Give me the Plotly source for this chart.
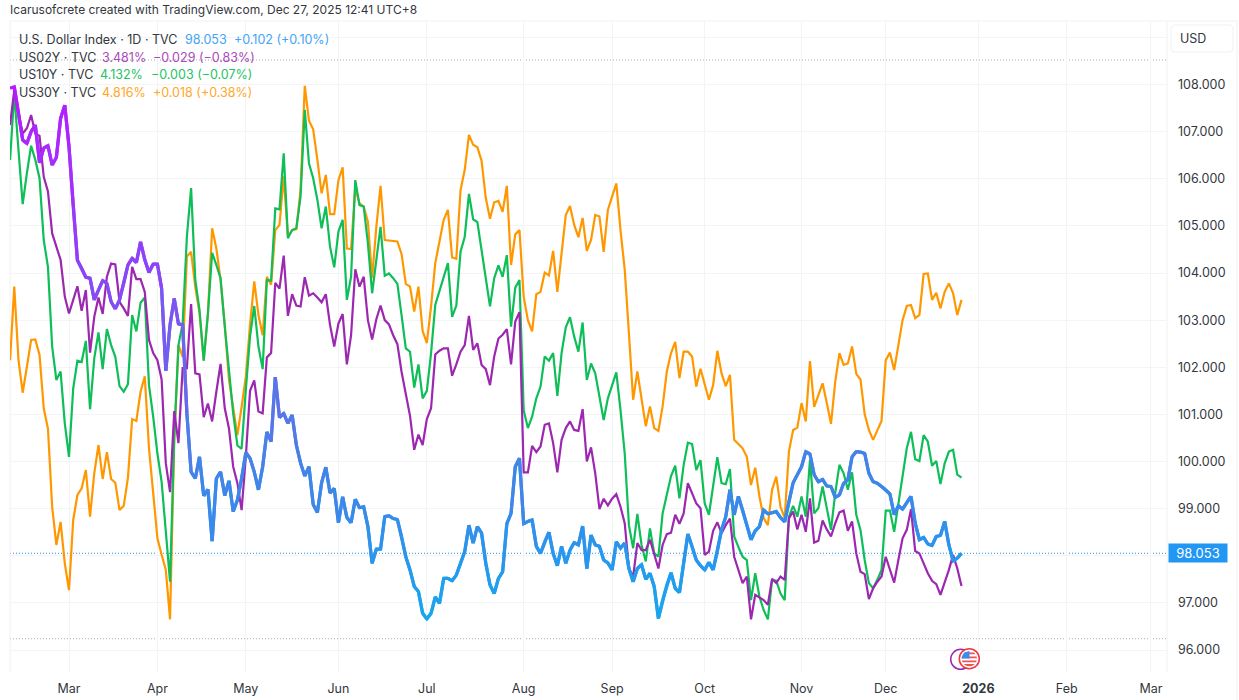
import numpy as np
import plotly.graph_objects as go

# Trading-day bar numbers: 0 is 3 Mar 2025, 212 is 26 Dec 2025
first_bar = -14
month_bars = [0, 21, 42, 64, 85, 108, 129, 151, 174, 194, 216, 237, 257]
month_labels = ["Mar", "Apr", "May", "Jun", "Jul", "Aug", "Sep", "Oct", "Nov", "Dec", "<b>2026</b>", "Feb", "Mar"]

price_ticks = [96, 97, 98, 99, 100, 101, 102, 103, 104, 105, 106, 107, 108, 109]
price_labels = ["96.000", "97.000", "", "99.000", "100.000", "101.000", "102.000", "103.000",
                "104.000", "105.000", "106.000", "107.000", "108.000", ""]

last_price = 98.053
range_high = 108.52
range_low = 96.24

us30y = [102.15,103.71,102.15,101.46,102.01,102.58,102.59,102.26,101.13,100.70,99.04,98.23,98.72,97.84,
    97.27,98.76,99.29,99.43,99.82,98.83,99.75,100.35,99.63,100.20,
    99.63,99.55,98.97,99.06,99.66,100.90,100.86,101.48,101.81,100.28,
    99.33,98.37,98.02,97.70,96.65,100.46,102.47,102.22,104.35,104.45,
    103.70,103.15,102.14,103.14,104.95,104.52,103.85,102.90,101.73,101.09,
    100.56,101.16,101.80,102.90,103.82,103.11,102.68,103.92,103.75,104.91,
    105.02,106.05,104.77,104.91,104.93,105.76,107.97,107.23,107.05,106.40,
    105.69,106.08,105.25,105.25,105.97,106.24,104.52,104.51,105.80,105.48,
    105.41,105.09,103.89,104.98,105.85,104.70,104.69,104.68,104.67,104.40,
    103.77,103.71,103.18,103.71,102.77,102.51,103.29,104.21,104.67,105.13,
    105.34,104.33,104.30,105.76,106.19,106.93,106.72,106.67,106.38,105.59,
    105.15,105.50,105.53,105.30,105.85,104.17,104.82,104.91,103.50,103.00,
    102.76,103.55,103.60,104.01,103.95,104.47,103.60,104.42,105.23,105.42,
    105.02,104.76,105.17,104.47,104.70,105.23,105.20,104.45,105.34,105.62,
    105.90,104.91,104.07,102.72,101.31,101.91,101.34,100.75,101.17,100.71,
    100.65,101.17,101.91,102.30,102.54,101.77,102.33,102.33,102.23,101.59,
    101.97,101.62,101.31,101.62,102.35,101.87,101.60,101.84,100.46,100.37,
    100.28,100.10,99.50,99.87,99.26,98.80,98.65,99.40,99.68,99.04,
    98.80,100.21,100.67,100.72,101.24,100.85,102.13,101.16,101.39,101.66,
    101.24,100.80,101.69,102.30,102.05,102.08,102.44,101.86,101.74,101.00,
    100.67,100.46,100.66,100.86,102.15,102.31,101.94,102.47,103.00,103.30,
    103.32,103.04,103.11,103.98,103.99,103.43,103.58,103.25,103.60,103.78,103.57,103.11,103.43]

us10y = [106.40,107.81,106.61,105.46,106.12,106.70,106.40,106.01,104.70,104.13,102.44,101.73,101.91,100.81,
    100.10,101.55,102.14,102.11,102.56,101.11,102.19,102.74,101.96,102.81,
    102.47,102.22,101.60,101.48,101.64,103.11,102.76,103.37,103.48,101.62,
    100.95,100.17,99.57,98.48,97.45,100.53,102.47,102.93,104.77,105.80,
    103.85,103.22,102.14,103.14,104.43,104.17,103.89,102.86,101.87,101.02,
    100.34,100.27,101.52,102.65,103.30,102.44,101.96,103.85,103.84,105.37,
    105.35,106.54,104.74,104.91,104.95,105.62,107.46,106.33,106.01,105.55,
    104.95,105.41,104.56,104.12,104.88,105.13,103.43,103.92,105.97,105.44,
    105.41,104.63,103.57,104.28,104.98,103.94,103.99,103.89,103.77,103.10,
    102.40,102.33,101.57,102.06,101.34,101.50,102.30,103.32,103.60,103.91,
    104.21,103.07,103.31,104.45,104.77,105.68,105.14,105.08,104.49,103.85,
    103.29,103.89,104.16,103.92,104.38,102.86,103.69,103.85,101.09,100.71,
    100.95,101.34,101.59,102.23,102.14,102.30,101.39,102.30,102.85,103.06,
    102.65,102.33,102.95,101.73,102.08,101.87,101.38,100.88,101.34,101.62,
    101.89,101.09,100.17,98.65,98.16,98.89,98.23,97.88,98.58,98.05,
    97.98,98.90,99.33,99.69,99.91,99.22,99.93,100.40,100.37,99.82,
    100.03,99.11,98.87,99.47,100.09,99.54,99.52,99.84,98.41,98.19,
    97.98,97.91,97.06,97.63,97.13,96.85,96.65,97.49,97.47,97.20,
    97.06,98.83,99.06,98.83,99.26,98.83,100.03,98.90,99.01,99.47,
    99.01,98.55,99.33,99.93,99.75,99.40,99.77,98.87,98.55,97.91,
    97.42,97.31,97.49,97.70,98.96,98.96,98.51,99.11,99.75,100.28,
    100.63,100.05,100.01,100.56,100.42,99.91,100.01,99.52,99.96,100.21,100.25,99.72,99.66]

us02y = [107.14,107.88,107.39,106.96,107.07,107.35,106.96,106.91,106.04,105.73,104.84,104.56,104.28,103.50,
    103.14,103.43,103.72,103.20,103.64,102.31,103.07,103.48,103.13,103.92,
    104.20,104.18,103.39,103.25,103.09,104.13,103.87,103.87,103.60,102.58,
    102.30,102.15,101.74,99.96,99.35,101.07,100.39,101.98,101.98,103.34,
    101.87,101.85,100.94,101.23,100.85,101.48,102.07,101.13,100.70,99.89,
    99.54,98.97,100.10,101.50,101.72,101.06,101.02,102.21,102.30,103.79,
    103.67,104.37,103.09,103.55,103.31,103.29,103.91,103.52,103.57,103.48,
    103.38,103.55,102.90,102.44,102.93,103.13,102.06,102.68,104.08,103.71,
    103.92,103.00,102.59,103.02,103.31,103.00,102.91,102.68,102.49,101.90,
    101.40,100.97,100.25,100.57,100.35,100.90,101.13,102.27,102.35,102.40,
    102.40,101.82,102.06,102.33,102.47,103.09,102.37,102.51,102.05,101.96,
    101.62,102.23,102.61,102.69,102.81,102.06,102.97,103.17,99.77,99.77,
    100.33,100.20,100.32,100.78,100.81,100.39,99.77,100.46,100.71,100.85,
    100.67,100.65,101.11,100.00,100.30,99.75,98.99,99.21,99.07,99.21,
    99.31,99.04,98.69,97.73,97.56,98.27,98.12,98.12,98.34,98.02,
    97.73,98.23,98.46,98.49,98.87,98.68,98.90,99.54,99.31,99.11,
    99.01,98.02,98.09,98.53,98.71,98.48,98.65,98.79,97.98,97.70,
    97.42,97.56,96.65,97.17,97.11,97.06,96.96,97.51,97.42,97.56,
    97.49,98.79,98.94,98.56,98.87,98.51,99.22,98.28,98.32,98.75,
    98.56,98.41,98.69,98.92,98.96,98.53,98.73,98.05,97.66,97.61,
    97.08,97.31,97.45,97.56,97.98,97.70,97.43,97.91,98.37,98.55,
    98.99,98.10,98.05,97.84,97.63,97.47,97.40,97.17,97.42,97.70,98.02,97.73,97.36]

dxy = [107.92,107.95,107.39,106.82,106.75,107.00,107.14,106.34,106.65,106.70,106.29,106.45,107.28,107.56,
    106.68,105.41,104.27,104.10,103.91,103.89,103.43,103.64,103.84,103.78,
    103.39,103.24,103.43,103.78,104.17,104.31,104.22,104.66,104.28,104.01,
    104.19,104.19,103.67,101.93,102.90,103.46,102.92,102.90,101.02,99.78,
    99.64,100.10,99.27,99.41,98.31,99.64,99.78,99.28,99.59,98.94,
    99.18,99.64,100.19,100.07,99.78,99.40,99.89,100.63,100.42,101.79,
    100.93,101.02,100.81,100.99,100.35,99.97,99.69,99.89,99.09,98.92,
    99.55,99.88,99.33,99.43,98.70,99.25,98.81,98.70,99.20,99.02,
    99.04,98.62,97.84,98.14,98.14,98.83,98.85,98.79,98.77,98.41,
    97.98,97.70,97.35,97.24,96.78,96.66,96.78,97.13,96.99,97.52,
    97.52,97.47,97.59,97.84,98.09,98.65,98.27,98.62,98.48,97.84,
    97.38,97.20,97.52,97.66,98.68,98.90,99.89,100.07,98.68,98.73,
    98.76,98.20,98.05,98.30,98.50,98.05,97.79,98.20,97.84,98.12,
    98.28,98.23,98.63,97.73,98.44,98.23,98.20,97.91,97.85,97.70,
    98.30,98.16,98.27,97.73,97.45,97.73,97.81,97.50,97.63,97.35,
    96.67,97.06,97.38,97.64,97.31,97.22,97.85,98.46,98.20,97.91,
    97.79,97.70,97.86,97.70,98.09,98.55,98.83,99.40,98.87,99.26,
    98.97,98.65,98.34,98.53,98.62,98.97,98.89,98.91,98.94,98.81,
    98.72,99.15,99.55,99.72,99.89,100.21,100.16,99.72,99.57,99.62,
    99.48,99.47,99.24,99.29,99.54,99.61,100.10,100.21,100.20,100.17,
    99.75,99.57,99.54,99.47,99.40,99.31,98.87,99.06,98.99,99.13,
    99.26,98.69,98.34,98.39,98.25,98.22,98.41,98.43,98.73,98.23,97.89,97.95,98.05]

W, H = 1239, 700
L, R, T, B = 10, 1167, 21, 672
FONT = "Inter"
INK = "#333740"
GRID = "#f3f4f6"
ORANGE, GREEN, PURPLE = "#ff9800", "#0ebe58", "#9c27b0"

bars = list(range(first_bar, first_bar + len(dxy)))

# DXY colour runs with its level: violet at the top of the range, sky blue at the bottom
grad_levels = [96.7, 98.0, 99.0, 100.4, 102.0, 104.0, 106.5, 108.0]
grad_r = [24, 40, 58, 74, 106, 139, 168, 187]
grad_g = [168, 152, 138, 128, 104, 70, 44, 20]
grad_b = [238, 238, 234, 232, 236, 246, 255, 255]


def grad(v):
    return "rgb(%d,%d,%d)" % (np.interp(v, grad_levels, grad_r),
                              np.interp(v, grad_levels, grad_g),
                              np.interp(v, grad_levels, grad_b))


fig = go.Figure()
for vals, col in ((us30y, ORANGE), (us10y, GREEN), (us02y, PURPLE)):
    fig.add_trace(go.Scatter(x=bars, y=vals, mode="lines", line=dict(color=col, width=2.2),
                             hoverinfo="skip", showlegend=False))
for i in range(len(dxy) - 1):
    fig.add_trace(go.Scatter(x=bars[i:i + 3], y=dxy[i:i + 3], mode="lines",
                             line=dict(color=grad((dxy[i] + dxy[i + 1]) / 2), width=3.2),
                             hoverinfo="skip", showlegend=False))

shapes = []
for lvl in (range_high, range_low):
    shapes.append(dict(type="line", xref="paper", yref="y", x0=0, x1=1, y0=lvl, y1=lvl,
                       line=dict(color="#a8abb2", width=1, dash="1px,2px"), layer="below"))
shapes.append(dict(type="line", xref="paper", yref="y", x0=0, x1=1, y0=last_price, y1=last_price,
                   line=dict(color="#2196f3", width=1, dash="1px,2px"), layer="below"))


def px(x):
    return (x - L) / (R - L)


def py(y):
    return (B - y) / (B - T)


def frame(x0, y0, x1, y1):
    shapes.append(dict(type="line", xref="paper", yref="paper", x0=px(x0), x1=px(x1), y0=py(y0), y1=py(y1),
                       line=dict(color="#f0f1f3", width=1), layer="below"))


frame(L, T, 1237, T)
frame(L, T, L, B)
frame(R, T, R, B)
frame(1237, T, 1237, 700)

# USD button
shapes.append(dict(type="path", xref="paper", yref="paper", layer="above",
                   path="M %f %f L %f %f Q %f %f %f %f L %f %f Q %f %f %f %f L %f %f Q %f %f %f %f L %f %f Q %f %f %f %f Z" % (
                       px(1175), py(25), px(1229), py(25), px(1233), py(25), px(1233), py(29),
                       px(1233), py(48), px(1233), py(52), px(1229), py(52),
                       px(1175), py(52), px(1171), py(52), px(1171), py(48),
                       px(1171), py(29), px(1171), py(25), px(1175), py(25)),
                   line=dict(color="#f0f1f3", width=1), fillcolor="white"))


def circle(cx, cy, r, line, fill, width=1.5):
    shapes.append(dict(type="circle", xref="paper", yref="paper", layer="above",
                       x0=px(cx - r), x1=px(cx + r), y0=py(cy + r), y1=py(cy - r),
                       line=dict(color=line, width=width), fillcolor=fill))


def chord_band(cx, cy, r, y0, y1, color, xmax=None):
    """Part of a disc between two horizontal lines, as an outline path."""
    ys = np.linspace(y0, y1, 7)
    rights = [cx + np.sqrt(max(r * r - (y - cy) ** 2, 0)) for y in ys]
    lefts = [cx - np.sqrt(max(r * r - (y - cy) ** 2, 0)) for y in ys]
    if xmax is not None:
        rights = [min(v, xmax) for v in rights]
    pts = list(zip(rights, ys)) + list(zip(lefts[::-1], ys[::-1]))
    d = "M " + " L ".join("%f %f" % (px(a), py(b)) for a, b in pts) + " Z"
    shapes.append(dict(type="path", path=d, xref="paper", yref="paper", layer="above",
                       line=dict(width=0), fillcolor=color))


# currency and flag badges on the time scale
circle(960.7, 659.3, 10, "#9c27b0", "white")
circle(969.3, 658.7, 10, "#f23645", "white")
fx, fy, fr = 969.3, 658.7, 7.6
for a, b in ((652.5, 654.3), (656.5, 658.3), (660.5, 662.3), (664.0, 666.3)):
    chord_band(fx, fy, fr, a, b, "#ef5350")
chord_band(fx, fy, fr, 651.1, 658.6, "#3d8bf0", xmax=969.5)

ann = []


def label(x, y, text, color=INK, size=12.5, anchor="left"):
    ann.append(dict(xref="paper", yref="paper", x=px(x), y=py(y), text=text, showarrow=False,
                    xanchor=anchor, yanchor="middle", font=dict(family=FONT, size=size, color=color),
                    borderpad=0, borderwidth=0))


label(10, 9.5, "Icarusofcrete created with TradingView.com, Dec 27, 2025 12:41 UTC+8", size=12)
label(19, 39.5, "U.S. Dollar Index · 1D · TVC")
label(184.5, 39.5, "98.053", "#42a5f5")
label(234, 39.5, "+0.102 (+0.10%)", "#42a5f5")
label(19, 57.5, "US02Y · TVC")
label(102, 57.5, "3.481%", "#ab47bc")
label(153, 57.5, "−0.029 (−0.83%)", "#ab47bc")
label(19, 75, "US10Y · TVC")
label(100, 75, "4.132%", "#22c266")
label(151, 75, "−0.003 (−0.07%)", "#22c266")
label(19, 92.5, "US30Y · TVC")
label(102, 92.5, "4.816%", "#ffa726")
label(153, 92.5, "+0.018 (+0.38%)", "#ffa726")
label(1180, 39, "USD")

ann.append(dict(xref="paper", yref="y", x=1.0, y=last_price, xanchor="left", yanchor="middle",
                xshift=1, text="%.3f" % last_price, showarrow=False, bgcolor="#2196f3", width=56, height=16,
                align="center", borderpad=1, font=dict(family=FONT, size=13, color="white")))

fig.update_layout(
    width=W, height=H, margin=dict(l=L, r=W - R, t=T, b=H - B), autosize=False,
    paper_bgcolor="white", plot_bgcolor="white", showlegend=False,
    shapes=shapes, annotations=ann,
    font=dict(family=FONT, size=13, color=INK),
    xaxis=dict(range=[(L - 69) / 4.21, (R - 69) / 4.21], tickmode="array", tickvals=month_bars,
               ticktext=month_labels, showgrid=True, gridcolor=GRID, gridwidth=1, zeroline=False,
               automargin=False, ticks="", showline=False, ticklabelstandoff=7,
               tickfont=dict(family=FONT, size=12.5, color=INK)),
    yaxis=dict(side="right", range=[95.534, 109.347], tickmode="array", tickvals=price_ticks,
               ticktext=price_labels, showgrid=True, gridcolor=GRID, gridwidth=1, zeroline=False,
               automargin=False, ticks="", showline=False, ticklabelstandoff=10,
               tickfont=dict(family=FONT, size=12.5, color=INK)),
)

fig.write_html("out.html", config={"displayModeBar": False},
               post_script="document.body.style.margin='0';")
